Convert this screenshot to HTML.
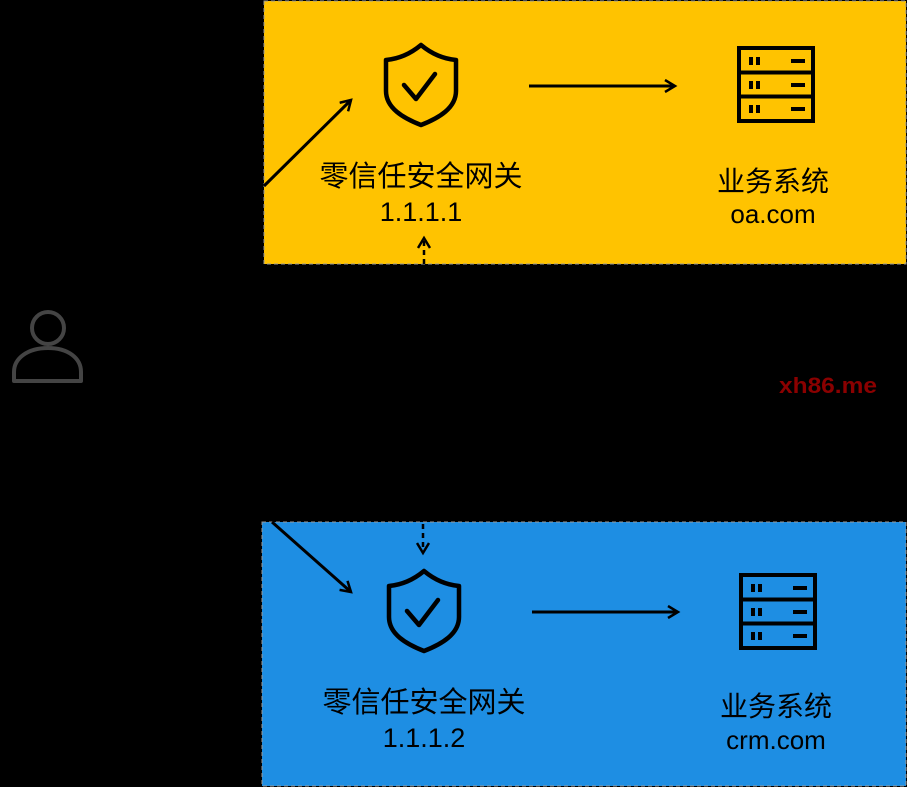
<!DOCTYPE html>
<html><head><meta charset="utf-8"><style>
html,body{margin:0;padding:0;background:#000;}
svg{display:block}
text{font-family:"Liberation Sans","Noto Sans CJK SC",sans-serif;fill:#000;text-anchor:middle}
</style></head><body>
<svg width="907" height="787" viewBox="0 0 907 787">
<defs>
<marker id="a" markerWidth="14" markerHeight="14" refX="11" refY="7" orient="auto" markerUnits="userSpaceOnUse">
<path d="M1,1 L11,7 L1,13" fill="none" stroke="#000" stroke-width="2.5"/>
</marker>
<g id="shield">
<path d="M0,-38 C-12,-28 -24,-24 -35,-23 L-35,8 C-35,25 -18,35 0,42 C18,35 35,25 35,8 L35,-23 C24,-24 12,-28 0,-38 Z" fill="none" stroke="#000" stroke-width="4.5" stroke-linejoin="round"/>
<path d="M-17,2 L-5,16 L14,-9" fill="none" stroke="#000" stroke-width="4.5" stroke-linecap="round" stroke-linejoin="round"/>
</g>
<g id="server">
<rect x="0" y="0" width="74" height="73" fill="none" stroke="#000" stroke-width="4"/>
<line x1="0" y1="24.5" x2="74" y2="24.5" stroke="#000" stroke-width="4"/>
<line x1="0" y1="48.5" x2="74" y2="48.5" stroke="#000" stroke-width="4"/>
<g fill="#000">
<rect x="10" y="9" width="4" height="8"/><rect x="17" y="9" width="4" height="8"/><rect x="52" y="11" width="14" height="4"/>
<rect x="10" y="33" width="4" height="8"/><rect x="17" y="33" width="4" height="8"/><rect x="52" y="35" width="14" height="4"/>
<rect x="10" y="57" width="4" height="8"/><rect x="17" y="57" width="4" height="8"/><rect x="52" y="59" width="14" height="4"/>
</g>
</g>
</defs>
<rect x="264" y="1" width="642" height="263" fill="#FFC300" stroke="#999" stroke-dasharray="4,3"/>
<rect x="262" y="522" width="644" height="264" fill="#1E8EE3" stroke="#999" stroke-dasharray="4,3"/>

<use href="#shield" x="421" y="83"/>
<use href="#shield" x="424" y="609"/>
<use href="#server" x="739" y="48"/>
<use href="#server" x="741" y="575"/>

<line x1="529" y1="86" x2="675" y2="86" stroke="#000" stroke-width="3" marker-end="url(#a)"/>
<line x1="532" y1="612" x2="678" y2="612" stroke="#000" stroke-width="3" marker-end="url(#a)"/>
<line x1="264" y1="186" x2="351" y2="100" stroke="#000" stroke-width="3" marker-end="url(#a)"/>
<line x1="272" y1="522" x2="351" y2="592" stroke="#000" stroke-width="3" marker-end="url(#a)"/>
<line x1="424" y1="264" x2="424" y2="238" stroke="#000" stroke-width="2.5" stroke-dasharray="5,4" marker-end="url(#a)"/>
<line x1="423" y1="524" x2="423" y2="553" stroke="#000" stroke-width="2.5" stroke-dasharray="5,4" marker-end="url(#a)"/>

<text x="421" y="186" font-size="29">零信任安全网关</text>
<text x="421" y="221" font-size="27">1.1.1.1</text>
<text x="773" y="191" font-size="28">业务系统</text>
<text x="773" y="223" font-size="26">oa.com</text>
<text x="424" y="712" font-size="29">零信任安全网关</text>
<text x="424" y="747" font-size="27">1.1.1.2</text>
<text x="776" y="716" font-size="28">业务系统</text>
<text x="776" y="749" font-size="26">crm.com</text>

<circle cx="48" cy="328" r="16" fill="none" stroke="#444" stroke-width="4"/>
<path d="M14,381 L14,372 C14,358 28,348 48,348 C68,348 81,358 81,372 L81,381 Z" fill="none" stroke="#444" stroke-width="4" stroke-linejoin="round"/>

<text x="828" y="393" font-size="22" font-weight="bold" textLength="98" lengthAdjust="spacingAndGlyphs" style="fill:#8B0000">xh86.me</text>
</svg>
</body></html>
